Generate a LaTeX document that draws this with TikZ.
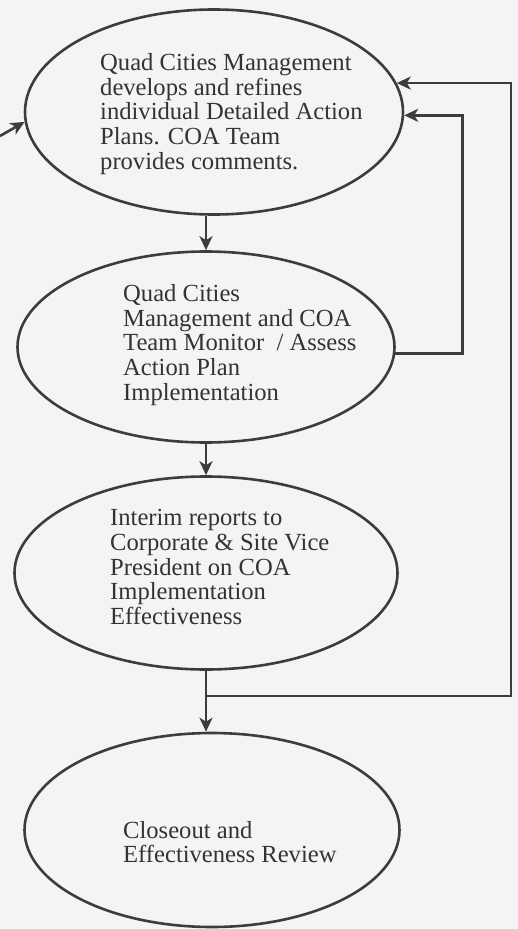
\documentclass[tikz,border=0pt]{standalone}
\usepackage{fontspec}
\setmainfont{Liberation Serif}
\usetikzlibrary{arrows.meta,calc,shapes.geometric}
\definecolor{bgc}{HTML}{F4F4F4}
\definecolor{linec}{HTML}{3C3C3C}
\definecolor{textc}{HTML}{333333}
\begin{document}
\begin{tikzpicture}[x=1pt,y=-1pt,
  oval/.style={ellipse, draw=linec, line width=2.6pt, inner sep=0pt},
  lbl/.style={anchor=west, align=left, inner sep=0pt, font=\fontsize{24.6}{24.6}\selectfont, text=textc},
  conn/.style={draw=linec, line width=2.6pt},
  arr/.style={conn, -{Stealth[length=14pt,width=13pt,inset=4pt]}}]
\fill[bgc] (0,0) rectangle (518,929);
\useasboundingbox (0,0) rectangle (518,929);
% ellipses
\node[oval, minimum width=378pt, minimum height=205pt] (e1) at (214,112) {};
\node[oval, minimum width=377pt, minimum height=191pt] (e2) at (206,347) {};
\node[oval, minimum width=383pt, minimum height=193pt] (e3) at (206,573) {};
\node[oval, minimum width=375pt, minimum height=194pt] (e4) at (212,830) {};
% texts
\node[lbl] (t1) at (100,114) {Quad Cities Management\\develops and refines\\individual Detailed Action\\Plans. COA Team\\provides comments.};
\node[lbl] (t2) at (123,345) {Quad Cities\\Management and COA\\Team Monitor~ / Assess\\Action Plan\\Implementation};
\node[lbl] (t3) at (110,567) {Interim reports to\\Corporate \& Site Vice\\President on COA\\Implementation\\Effectiveness};
\node[lbl] (t4) at (123,842) {Closeout and\\Effectiveness Review};
% connectors
\coordinate (in) at (0,136);
\draw[arr] (in) -- (e1.183.6);
\draw[arr] (e1.south -| e2.north) -- (e2.north);
\draw[arr] (e2.south -| e3.north) -- (e3.north);
\coordinate (j) at ($(e3.south)+(0,25)$);
\draw[arr] (e3.south) -- (e4.north -| e3.south);
\draw[arr] (e2.-2) -- ++(67,0) |- (e1.-1);
\draw[arr] (j) -- ++(305,0) |- (e1.9.8);
\end{tikzpicture}
\end{document}
